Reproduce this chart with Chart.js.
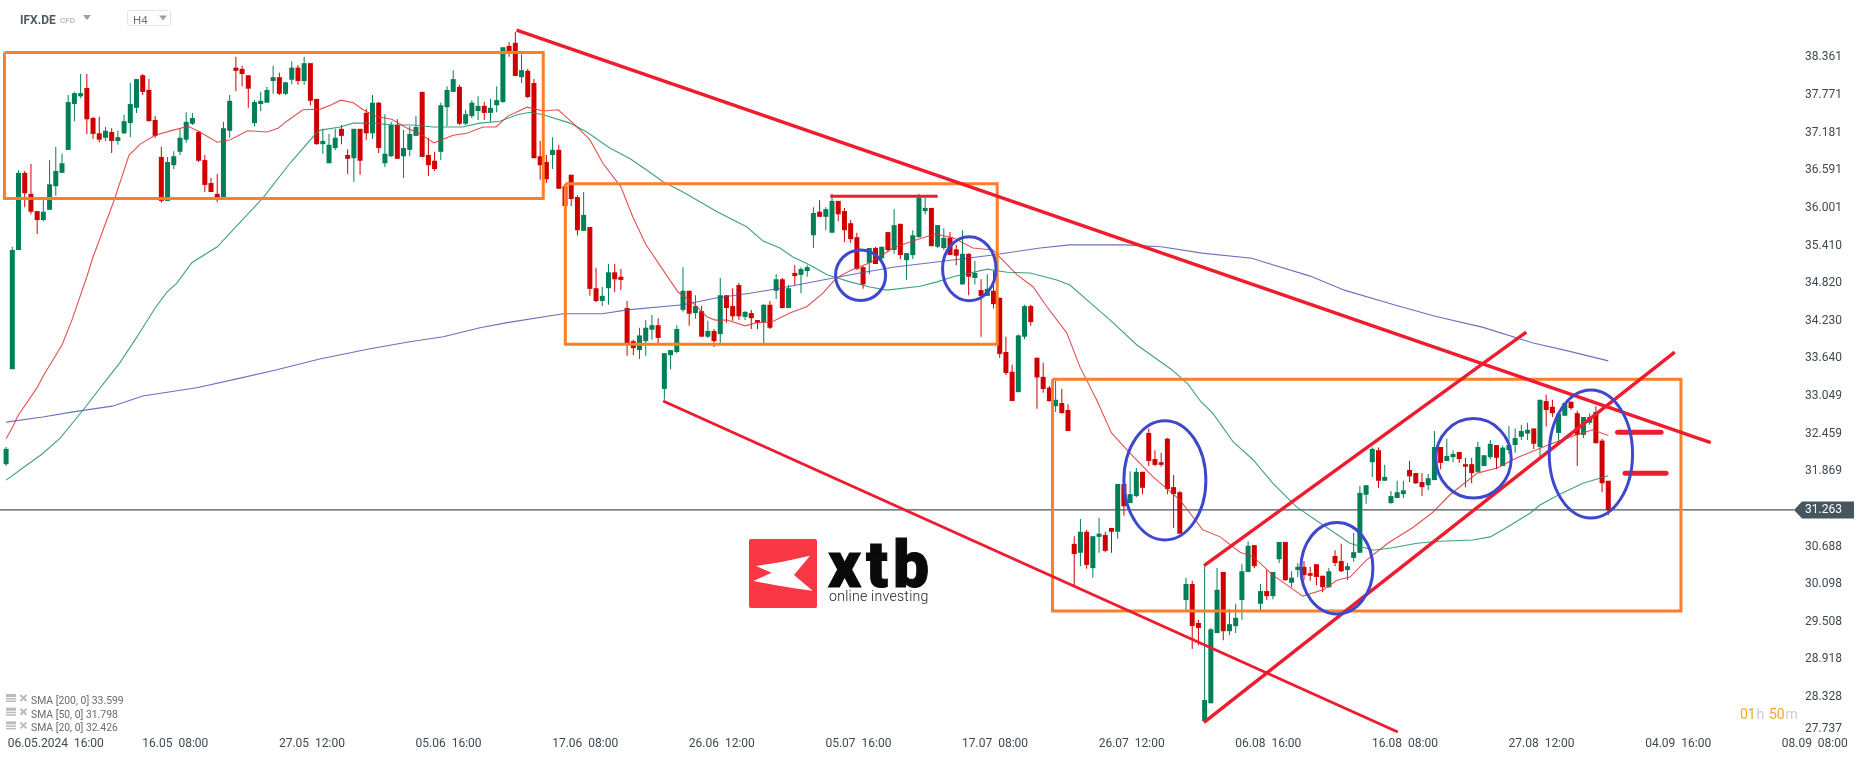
<!DOCTYPE html>
<html>
<head>
<meta charset="utf-8">
<title>IFX.DE H4</title>
<style>html,body{margin:0;padding:0;background:#fff;overflow:hidden}canvas{display:block}</style>
<script src="https://cdn.jsdelivr.net/npm/chart.js@4"></script>
</head>
<body>
<canvas id="c" width="1866" height="759"></canvas>
<script>
const open=[31.98,33.47,35.34,36.55,36.22,35.95,35.81,35.97,36.34,36.55,
36.91,37.63,37.75,37.88,37.41,37.17,37.10,37.19,37.05,37.17,
37.33,37.57,38.08,37.85,37.38,36.80,36.11,36.67,36.88,37.07,
37.32,37.19,36.75,36.39,36.22,36.16,37.21,38.20,38.18,38.08,
37.33,37.63,37.65,37.99,38.05,37.79,38.01,38.20,37.99,38.27,
37.71,37.00,36.70,36.94,37.24,36.83,36.78,37.24,37.49,37.17,
37.65,36.70,36.81,37.30,36.81,36.91,37.13,37.82,36.83,36.74,
36.88,37.58,37.82,37.90,37.32,37.44,37.52,37.60,37.49,37.61,
37.66,38.54,38.59,38.05,38.15,37.96,36.81,36.72,36.83,36.91,
36.34,36.52,36.17,35.64,35.70,34.74,34.54,34.74,34.99,34.92,
34.43,33.91,33.77,33.91,34.09,34.16,33.16,33.69,33.74,34.40,
34.70,34.35,34.38,33.98,34.07,34.02,34.63,34.46,34.79,34.29,
34.35,34.24,34.21,34.48,34.70,34.88,34.43,34.98,34.95,35.01,
35.57,35.94,35.86,35.61,36.11,35.95,35.76,35.54,35.07,35.14,
35.37,35.21,35.62,35.34,35.75,35.18,35.26,35.54,35.95,36.00,
35.39,35.37,35.53,35.35,34.80,35.28,34.90,34.71,34.62,34.70,
34.59,33.74,33.43,33.11,33.98,34.46,33.65,33.35,33.18,32.89,
32.94,32.83,30.73,30.59,30.92,30.35,30.84,30.87,30.98,30.92,
31.67,31.37,31.48,31.86,32.47,32.06,32.01,32.38,31.62,31.54,
29.85,30.10,29.49,27.95,28.23,29.33,30.29,29.36,29.44,29.85,
30.29,30.71,29.79,29.99,29.91,30.49,30.76,30.12,30.32,30.37,
30.27,30.41,30.23,30.05,30.54,30.46,30.32,30.51,30.59,31.50,
32.01,32.20,31.72,31.37,31.45,31.51,31.89,31.84,31.70,31.65,
31.73,32.25,32.03,32.09,32.17,31.98,31.98,31.86,31.95,32.09,
32.28,31.95,32.20,32.28,32.41,32.46,32.54,32.25,32.97,32.88,
32.47,32.74,32.96,32.78,32.44,32.63,32.80,32.35,31.72];
const high=[32.25,35.39,36.59,36.58,36.69,35.95,36.12,36.75,36.96,36.85,
37.77,37.82,38.10,38.10,37.43,37.43,37.27,37.25,37.21,37.46,
37.96,38.02,38.10,38.02,37.44,36.96,36.80,36.89,37.25,37.50,
37.49,37.21,36.83,36.47,36.53,37.35,37.77,38.37,38.23,38.08,
37.69,37.82,37.90,38.23,38.12,37.97,38.30,38.24,38.37,38.27,
37.71,37.24,37.16,37.24,37.30,36.92,37.24,37.24,37.55,37.77,
37.66,37.47,37.35,37.39,37.22,37.28,37.44,37.82,37.10,36.88,
37.65,37.91,38.16,37.93,37.54,37.69,37.75,37.66,37.71,37.91,
38.52,38.60,38.76,38.41,38.18,38.02,37.05,36.83,37.11,36.99,
36.34,36.52,36.20,36.25,35.70,35.06,34.76,35.12,35.12,35.04,
34.54,33.93,34.12,34.24,34.32,34.27,33.72,33.77,34.16,35.07,
34.70,34.63,34.46,34.23,34.10,34.90,34.63,34.74,34.82,34.38,
34.40,34.24,34.49,34.54,34.96,34.90,34.79,35.10,35.07,35.10,
36.01,36.12,36.01,36.22,36.11,36.00,35.81,35.61,35.09,35.37,
35.39,35.39,35.62,35.98,35.75,35.29,35.65,36.22,36.16,36.00,
35.73,35.68,35.62,35.42,35.65,35.29,35.17,34.88,34.96,35.01,
34.59,33.98,33.54,34.02,34.48,34.48,33.65,33.57,33.21,33.29,
33.16,32.92,30.85,31.12,30.95,30.85,31.14,30.92,30.98,31.67,
31.67,31.87,31.92,31.86,32.54,32.20,32.16,32.39,31.81,31.56,
30.20,30.15,29.54,30.38,29.41,30.35,30.29,29.71,29.79,30.41,
30.77,30.71,30.10,30.32,30.29,30.76,30.76,30.30,30.43,30.46,
30.37,30.41,30.23,30.35,30.63,30.73,30.43,30.90,31.64,31.65,
32.24,32.24,31.97,31.56,31.72,31.72,32.03,31.84,31.84,31.83,
32.50,32.25,32.38,32.20,32.17,32.08,32.08,32.33,32.12,32.36,
32.28,32.27,32.58,32.54,32.60,32.63,32.54,32.99,33.07,32.99,
32.77,32.94,32.96,32.82,32.72,32.78,32.89,32.38,31.72];
const low=[31.95,33.47,35.34,36.01,35.90,35.59,35.79,35.97,36.19,36.55,
36.91,37.36,37.72,37.16,37.08,37.03,37.05,36.86,36.99,37.16,
37.11,37.49,37.77,37.36,37.10,36.08,36.11,36.61,36.83,37.02,
37.30,36.72,36.25,36.25,36.09,36.16,37.10,37.83,37.91,37.57,
37.28,37.52,37.65,37.79,37.77,37.77,37.94,37.93,37.93,37.61,
36.99,36.85,36.70,36.91,37.00,36.53,36.41,36.52,37.07,37.08,
36.86,36.64,36.80,36.77,36.47,36.81,37.13,36.80,36.50,36.58,
36.75,37.28,37.82,37.30,37.30,37.41,37.38,37.38,37.35,37.50,
37.65,38.37,38.07,37.96,37.72,36.78,36.44,36.39,36.61,36.30,
36.03,36.03,35.57,35.64,34.62,34.52,34.46,34.48,34.68,34.71,
33.68,33.69,33.63,33.68,33.93,33.88,32.99,33.47,33.72,34.37,
34.15,34.26,33.98,33.96,33.82,33.88,34.20,34.23,34.24,34.24,
34.10,34.10,33.88,34.10,34.57,34.42,34.43,34.79,34.66,34.92,
35.37,35.86,35.65,35.61,35.79,35.46,35.45,35.03,34.73,34.96,
35.12,35.18,35.31,35.28,35.20,34.87,35.20,35.54,35.90,35.40,
35.37,35.34,35.26,35.10,34.80,34.63,34.80,33.98,34.62,34.42,
33.65,33.38,32.97,33.11,33.94,34.15,32.85,33.10,32.96,32.80,
32.78,32.50,30.08,30.38,30.34,30.20,30.59,30.60,30.59,30.81,
31.17,31.37,31.46,31.51,31.95,31.95,31.94,31.51,30.98,30.89,
29.69,29.08,29.14,27.95,28.23,29.33,29.22,29.30,29.33,29.54,
30.29,30.35,29.69,29.85,29.86,30.43,30.15,30.05,30.21,30.16,
30.15,30.08,29.97,30.04,30.38,30.29,30.16,30.45,30.59,31.36,
31.78,31.61,31.72,31.36,31.45,31.45,31.70,31.67,31.48,31.57,
31.73,31.90,32.03,32.01,32.00,31.62,31.68,31.86,31.95,32.06,
31.90,31.95,32.14,32.16,32.36,32.36,32.22,32.08,32.57,32.72,
32.31,32.74,32.83,31.95,32.39,32.60,32.30,31.54,31.18];
const close=[32.22,35.34,36.55,36.23,35.94,35.81,35.94,36.37,36.58,36.70,
37.66,37.80,37.80,37.39,37.16,37.07,37.21,37.05,37.11,37.36,
37.63,38.02,37.82,37.36,37.13,36.11,36.72,36.81,37.10,37.35,
37.41,36.74,36.36,36.25,36.14,37.25,37.68,38.15,38.10,37.87,
37.66,37.68,37.85,38.05,37.79,37.97,38.20,37.99,38.27,37.68,
37.00,37.05,36.99,37.10,37.13,36.77,37.24,36.74,37.17,37.65,
36.94,36.85,37.30,36.77,36.94,37.16,37.27,36.80,36.67,36.61,
37.61,37.85,38.02,37.32,37.47,37.65,37.60,37.49,37.57,37.69,
38.52,38.46,38.07,38.16,37.74,36.78,36.67,36.45,36.91,36.30,
36.03,36.14,35.65,35.89,34.73,34.54,34.62,34.99,34.88,34.87,
33.88,33.80,34.00,34.12,34.16,33.96,33.72,33.77,34.10,34.70,
34.34,34.46,33.98,34.07,33.91,34.63,34.43,34.30,34.30,34.37,
34.27,34.20,34.48,34.12,34.88,34.43,34.74,34.93,35.04,35.07,
35.92,35.86,35.98,36.11,35.90,35.65,35.51,35.04,34.80,35.37,
35.12,35.39,35.34,35.73,35.26,35.29,35.57,36.16,36.00,35.40,
35.73,35.53,35.26,35.25,35.28,34.92,34.98,34.62,34.73,34.49,
33.71,33.41,32.97,34.00,34.46,34.21,33.34,33.16,32.97,32.99,
32.78,32.50,30.57,30.92,30.40,30.85,30.89,30.62,30.92,31.67,
31.32,31.51,31.86,31.61,32.03,31.97,31.97,31.59,31.51,30.89,
30.10,29.44,29.41,28.28,29.39,30.01,29.36,29.47,29.57,30.30,
30.70,30.38,29.99,29.91,30.29,30.76,30.16,30.20,30.37,30.24,
30.23,30.21,30.05,30.30,30.43,30.30,30.38,30.60,31.53,31.65,
32.22,31.72,31.78,31.48,31.54,31.57,31.79,31.68,31.62,31.76,
32.25,32.00,32.11,32.14,32.06,31.94,31.84,32.25,32.12,32.30,
32.08,32.24,32.28,32.39,32.50,32.52,32.30,32.99,32.83,32.78,
32.77,32.94,32.86,32.44,32.72,32.72,32.31,31.68,31.26];

const sma20Idx=[0,1.1,1.9,5,5.9,9,10.6,13,14,15.6,17.4,19.8,21.6,24,26.9,29.3,31.2,34,36.1,38.9,42,43.8,45.2,47.8,50.6,52.2,53.9,55.9,57.5,59.7,62.1,64.6,66.7,68.9,72,74.2,76.8,78.9,80.8,83.9,86.5,88.9,91.3,94,96.1,99,100.9,103,106.1,108.2,110.6,112.9,114.2,116.1,119,120.9,123.3,126.2,128.9,131.5,133.7,136.2,139.1,142.8,146,149.6,152.5,155.7,158.9,160.5,162.8,165.4,167.6,170.8,172.9,175.6,178,180.9,184.7,189,192.7,195.5,198.7,200.8,204,208.8,212.1,214.3,216.4,219.1,222.5,226.6,229.8,232.5,236.9,240.1,243.3,248.3,252.9,255.5,258];
const sma20Val=[32.38,32.57,32.74,33.18,33.35,33.85,34.24,34.92,35.23,35.65,36.12,36.83,37.00,37.14,37.22,37.28,37.19,37.03,37.07,37.21,37.19,37.25,37.36,37.54,37.55,37.61,37.69,37.65,37.54,37.43,37.39,37.25,37.16,37.02,37.14,37.17,37.27,37.27,37.44,37.58,37.52,37.54,37.33,37.07,36.70,36.33,35.86,35.43,34.98,34.68,34.51,34.29,34.24,34.24,34.15,34.20,34.21,34.35,34.45,34.66,34.90,35.03,35.14,35.37,35.48,35.59,35.53,35.37,35.34,35.18,34.95,34.76,34.45,34.04,33.51,32.99,32.47,32.16,31.78,31.42,30.95,30.84,30.60,30.53,30.24,29.91,30.01,30.16,30.21,30.48,30.74,30.99,31.23,31.50,31.84,31.92,32.08,32.28,32.44,32.52,32.43];
const sma50Idx=[0,2.4,5.8,8.7,12.4,15.9,18.3,21.1,24,25.9,27.5,29.9,34,36.5,41.4,45.7,50.1,50.6,53.8,55.9,59.1,62.3,65.5,68.8,73.5,76.3,79.5,82.3,84.4,86.5,90.8,93.5,97.2,100.5,103.2,105.8,109,114.5,119.3,121.9,124.6,126.7,129.5,132.2,135.9,139.1,141.8,147.2,149.9,152.5,158,161.2,164.9,169.2,171.3,174.6,177.8,182.1,187.6,190.3,192.4,194.3,197.6,200.8,204,207.8,212,216.4,220.1,223.3,227.2,230.9,236.2,239,241.7,245.4,247,250.2,253.9,258];
const sma50Val=[31.73,31.90,32.14,32.39,32.83,33.27,33.57,33.98,34.43,34.68,34.82,35.14,35.39,35.65,36.16,36.70,37.19,37.22,37.27,37.33,37.33,37.30,37.30,37.27,37.27,37.33,37.36,37.46,37.50,37.46,37.33,37.19,36.94,36.77,36.59,36.41,36.25,35.94,35.70,35.48,35.37,35.23,35.10,34.95,34.84,34.76,34.71,34.77,34.84,34.92,35.04,34.99,34.98,34.87,34.79,34.51,34.24,33.85,33.47,33.24,32.96,32.78,32.33,32.05,31.68,31.31,31.03,30.74,30.63,30.67,30.74,30.77,30.79,30.84,30.99,31.21,31.34,31.51,31.68,31.80];
const sma200Idx=[0,5.9,10.8,17.1,22,30.7,37.7,43.6,50.5,58.6,65,70.4,76.3,80.7,89.7,96,100,109,114.5,119.8,124.6,131.5,137.5,142.8,148.8,154.7,158.9,166.5,171.3,180,186,192.6,200.6,202.9,210,215.5,223.5,230.1,237.7,245.9,251.8,258];
const sma200Val=[32.64,32.72,32.80,32.89,33.05,33.18,33.33,33.46,33.63,33.79,33.90,33.98,34.12,34.20,34.34,34.34,34.40,34.48,34.59,34.66,34.74,34.87,34.98,35.07,35.14,35.21,35.26,35.37,35.42,35.42,35.39,35.29,35.21,35.14,34.93,34.71,34.48,34.30,34.13,33.88,33.75,33.60];

const currentPrice=31.263;
const yTickPos=[38.361,37.771,37.181,36.591,36.001,35.410,34.820,34.230,33.640,33.049,32.459,31.869,31.263,30.688,30.098,29.508,28.918,28.328,27.82];
const yTickText=['38.361','37.771','37.181','36.591','36.001','35.410','34.820','34.230','33.640','33.049','32.459','31.869','31.263','30.688','30.098','29.508','28.918','28.328','27.737'];
const xTickPos=[8,27.25,49.25,71.25,93.25,115.25,137.25,159.25,181.25,203.25,225.25,247.25,269.25,291.25];
const xTickText=['06.05.2024  16:00','16.05  08:00','27.05  12:00','05.06  16:00','17.06  08:00','26.06  12:00','05.07  16:00','17.07  08:00','26.07  12:00','06.08  16:00','16.08  08:00','27.08  12:00','04.09  16:00','08.09  08:00'];
const legendText=['SMA [200, 0] 33.599','SMA [50, 0] 31.798','SMA [20, 0] 32.426'];

/* drawn analysis, in candle index / price */
const rectLeft=[-0.26,90.05,168.5];
const rectRight=[86.5,159.6,269.7];
const rectTop=[38.436,36.379,33.311];
const rectBottom=[36.149,33.860,29.677];
const trendX1=[82.2,105.8,192.9,192.9,132.7,259.5,260.7];
const trendP1=[38.79,32.971,30.387,27.931,36.182,32.48,31.837];
const trendX2=[274.5,224.1,244.8,268.7,150,266.5,267.3];
const trendP2=[32.317,27.779,34.053,33.739,36.182,32.48,31.837];
const trendW=[3.4,3,3.4,3.4,3,5,5];
const ellipseX=[137.6,155.1,186.6,214.3,236.3,255.2];
const ellipseP=[34.943,35.046,31.727,30.347,32.072,32.14];
const ellipseRX=[4.03,4.30,6.60,5.80,6.07,6.71];
const ellipseRP=[0.397,0.502,0.936,0.717,0.623,1.004];

const UP='#007f58', DOWN='#cf0000';
const ORANGE='#ff7f27', RED='#ed1c2e', BLUE='#3f48cc';
const isUp=close.map((c,i)=>c>=open[i]);
const candleColors=isUp.map(u=>u?UP:DOWN);
const FONT='Roboto, sans-serif';

const lineDs=(xs,ys,color,width,order,extra)=>Object.assign({
  type:'line',data:xs.map((x,i)=>({x,y:ys[i]})),borderColor:color,borderWidth:width,
  pointRadius:0,tension:0,order,fill:false,borderJoinStyle:'miter',borderCapStyle:'butt'
},extra||{});

const datasets=[
  lineDs([-1,287.9],[currentPrice,currentPrice],'#47565f',1.2,7),
  {type:'bar',data:close.map((c,i)=>({x:i,y:[low[i],high[i]]})),backgroundColor:candleColors,barThickness:1,grouped:false,order:6,inflateAmount:0,borderWidth:0},
  {type:'bar',data:close.map((c,i)=>({x:i,y:[open[i],c]})),backgroundColor:candleColors,barThickness:5,grouped:false,order:5,inflateAmount:0,borderWidth:0},
  lineDs(sma200Idx,sma200Val,'rgba(70,78,175,0.8)',1.1,4),
  lineDs(sma50Idx,sma50Val,'rgba(30,145,105,0.85)',1.1,3),
  lineDs(sma20Idx,sma20Val,'rgba(222,50,50,0.85)',1.1,2)
];
rectLeft.forEach((l,k)=>{
  datasets.push(lineDs([l,rectRight[k],rectRight[k],l,l],[rectTop[k],rectTop[k],rectBottom[k],rectBottom[k],rectTop[k]],ORANGE,3,1));
});
trendX1.forEach((x,k)=>{
  datasets.push(lineDs([x,trendX2[k]],[trendP1[k],trendP2[k]],RED,trendW[k],0,{borderCapStyle:trendW[k]>4?'round':'butt'}));
});

function triangle(ctx,x,y,w,h,color){
  ctx.fillStyle=color;ctx.beginPath();ctx.moveTo(x,y);ctx.lineTo(x+w,y);ctx.lineTo(x+w/2,y+h);ctx.closePath();ctx.fill();
}
const chrome={
  id:'chrome',
  beforeDraw(chart){
    const ctx=chart.ctx,ys=chart.scales.y;
    ctx.save();
    ctx.fillStyle='#fff';ctx.fillRect(0,0,1866,759);
    /* current price tag */
    const py=ys.getPixelForValue(currentPrice);
    ctx.fillStyle='#46565f';
    ctx.beginPath();ctx.moveTo(1794,py);ctx.lineTo(1802,py-8.5);ctx.lineTo(1854,py-8.5);ctx.lineTo(1854,py+8.5);ctx.lineTo(1802,py+8.5);ctx.closePath();ctx.fill();
    /* header */
    ctx.textBaseline='alphabetic';ctx.textAlign='left';
    ctx.fillStyle='#4f5a62';ctx.font='bold 12px '+FONT;ctx.fillText('IFX.DE',20,23.5);
    ctx.fillStyle='#9aa1a6';ctx.font='8px '+FONT;ctx.fillText('CFD',60,22.5);
    triangle(ctx,83,15,8,5,'#9aa1a6');
    ctx.strokeStyle='#e2e4e6';ctx.lineWidth=1;ctx.beginPath();ctx.roundRect(127.5,10.5,43,15,2);ctx.stroke();
    ctx.fillStyle='#6d767d';ctx.font='11.5px '+FONT;ctx.fillText('H4',133,24);
    triangle(ctx,159,15.5,8,5,'#9aa1a6');
    /* legend */
    legendText.forEach((t,k)=>{
      const y=700.5+k*13.7;
      ctx.fillStyle='#b9bcbf';
      ctx.fillRect(6,y-6.5,10,3);ctx.fillRect(6,y-2.5,10,1.5);ctx.fillRect(6,y,10,1.5);
      ctx.strokeStyle='#b9bcbf';ctx.lineWidth=2;ctx.beginPath();
      ctx.moveTo(20.5,y-5.5);ctx.lineTo(26.5,y+0.5);ctx.moveTo(26.5,y-5.5);ctx.lineTo(20.5,y+0.5);ctx.stroke();
      ctx.fillStyle='#6a6a6a';ctx.font='10.4px '+FONT;ctx.fillText(t,31,y+3.5);
    });
    /* countdown */
    ctx.font='14px '+FONT;
    ctx.fillStyle='#f5a623';ctx.fillText('01',1740,719);ctx.fillText('50',1769,719);
    ctx.fillStyle='#c9cbcd';ctx.fillText('h',1756.5,719);ctx.fillText('m',1785.5,719);
    /* logo */
    ctx.fillStyle='#f93745';ctx.beginPath();ctx.roundRect(749,539,68,69,2);ctx.fill();
    ctx.fillStyle='#fff';ctx.beginPath();
    [[756,566],[782.7,561.7],[810,555.7],[794,575],[812.7,590.7],[794,588.3],[774.7,585],[753.3,581],[771.7,572.7]]
      .forEach((p,i)=>i?ctx.lineTo(p[0],p[1]):ctx.moveTo(p[0],p[1]));
    ctx.closePath();ctx.fill();
    ctx.fillStyle='#0a0a0a';ctx.strokeStyle='#0a0a0a';ctx.lineWidth=1;ctx.font='900 64px '+FONT;
    if('letterSpacing' in ctx)ctx.letterSpacing='5px';
    ctx.fillText('xtb',828,587);ctx.strokeText('xtb',828,587);
    if('letterSpacing' in ctx)ctx.letterSpacing='0.2px';
    ctx.fillStyle='#222';ctx.font='300 14.2px '+FONT;ctx.fillText('online investing',829,601);
    if('letterSpacing' in ctx)ctx.letterSpacing='0px';
    ctx.restore();
  },
  afterDatasetsDraw(chart){
    const ctx=chart.ctx,xs=chart.scales.x,ys=chart.scales.y;
    ctx.save();ctx.strokeStyle=BLUE;ctx.lineWidth=3;
    ellipseX.forEach((x,k)=>{
      const cx=xs.getPixelForValue(x),cy=ys.getPixelForValue(ellipseP[k]);
      const rx=xs.getPixelForValue(x+ellipseRX[k])-cx,ry=cy-ys.getPixelForValue(ellipseP[k]+ellipseRP[k]);
      ctx.beginPath();ctx.ellipse(cx,cy,rx,ry,0,0,Math.PI*2);ctx.stroke();
    });
    ctx.restore();
  }
};
const noPad=s=>{s.paddingLeft=0;s.paddingRight=0;s.paddingTop=0;s.paddingBottom=0;};

new Chart(document.getElementById('c'),{
  type:'bar',
  data:{datasets},
  plugins:[chrome],
  options:{
    responsive:false,animation:false,
    layout:{padding:0},
    plugins:{legend:{display:false},tooltip:{enabled:false},title:{display:false}},
    events:[],
    scales:{
      x:{type:'linear',position:'bottom',offset:false,min:-0.982,max:299.5,
        grid:{display:false,drawTicks:false},border:{display:false},
        afterBuildTicks:s=>{s.ticks=xTickPos.map(v=>({value:v}));},
        afterFit:s=>{s.height=24;noPad(s);},
        ticks:{autoSkip:false,maxRotation:0,minRotation:0,padding:2,color:'#3f4950',font:{family:FONT,size:12},
          callback:(v,i)=>xTickText[i]}},
      y:{type:'linear',position:'right',min:27.732,max:39.261,
        grid:{display:false,drawTicks:false},border:{display:false},
        afterBuildTicks:s=>{s.ticks=yTickPos.map(v=>({value:v}));},
        afterFit:s=>{s.width=0;noPad(s);},
        ticks:{autoSkip:false,mirror:true,padding:-24,font:{family:FONT,size:12},
          color:c=>c.index===12?'#ffffff':'#3f4950',
          callback:(v,i)=>yTickText[i]}}
    }
  }
});
</script>
</body>
</html>
